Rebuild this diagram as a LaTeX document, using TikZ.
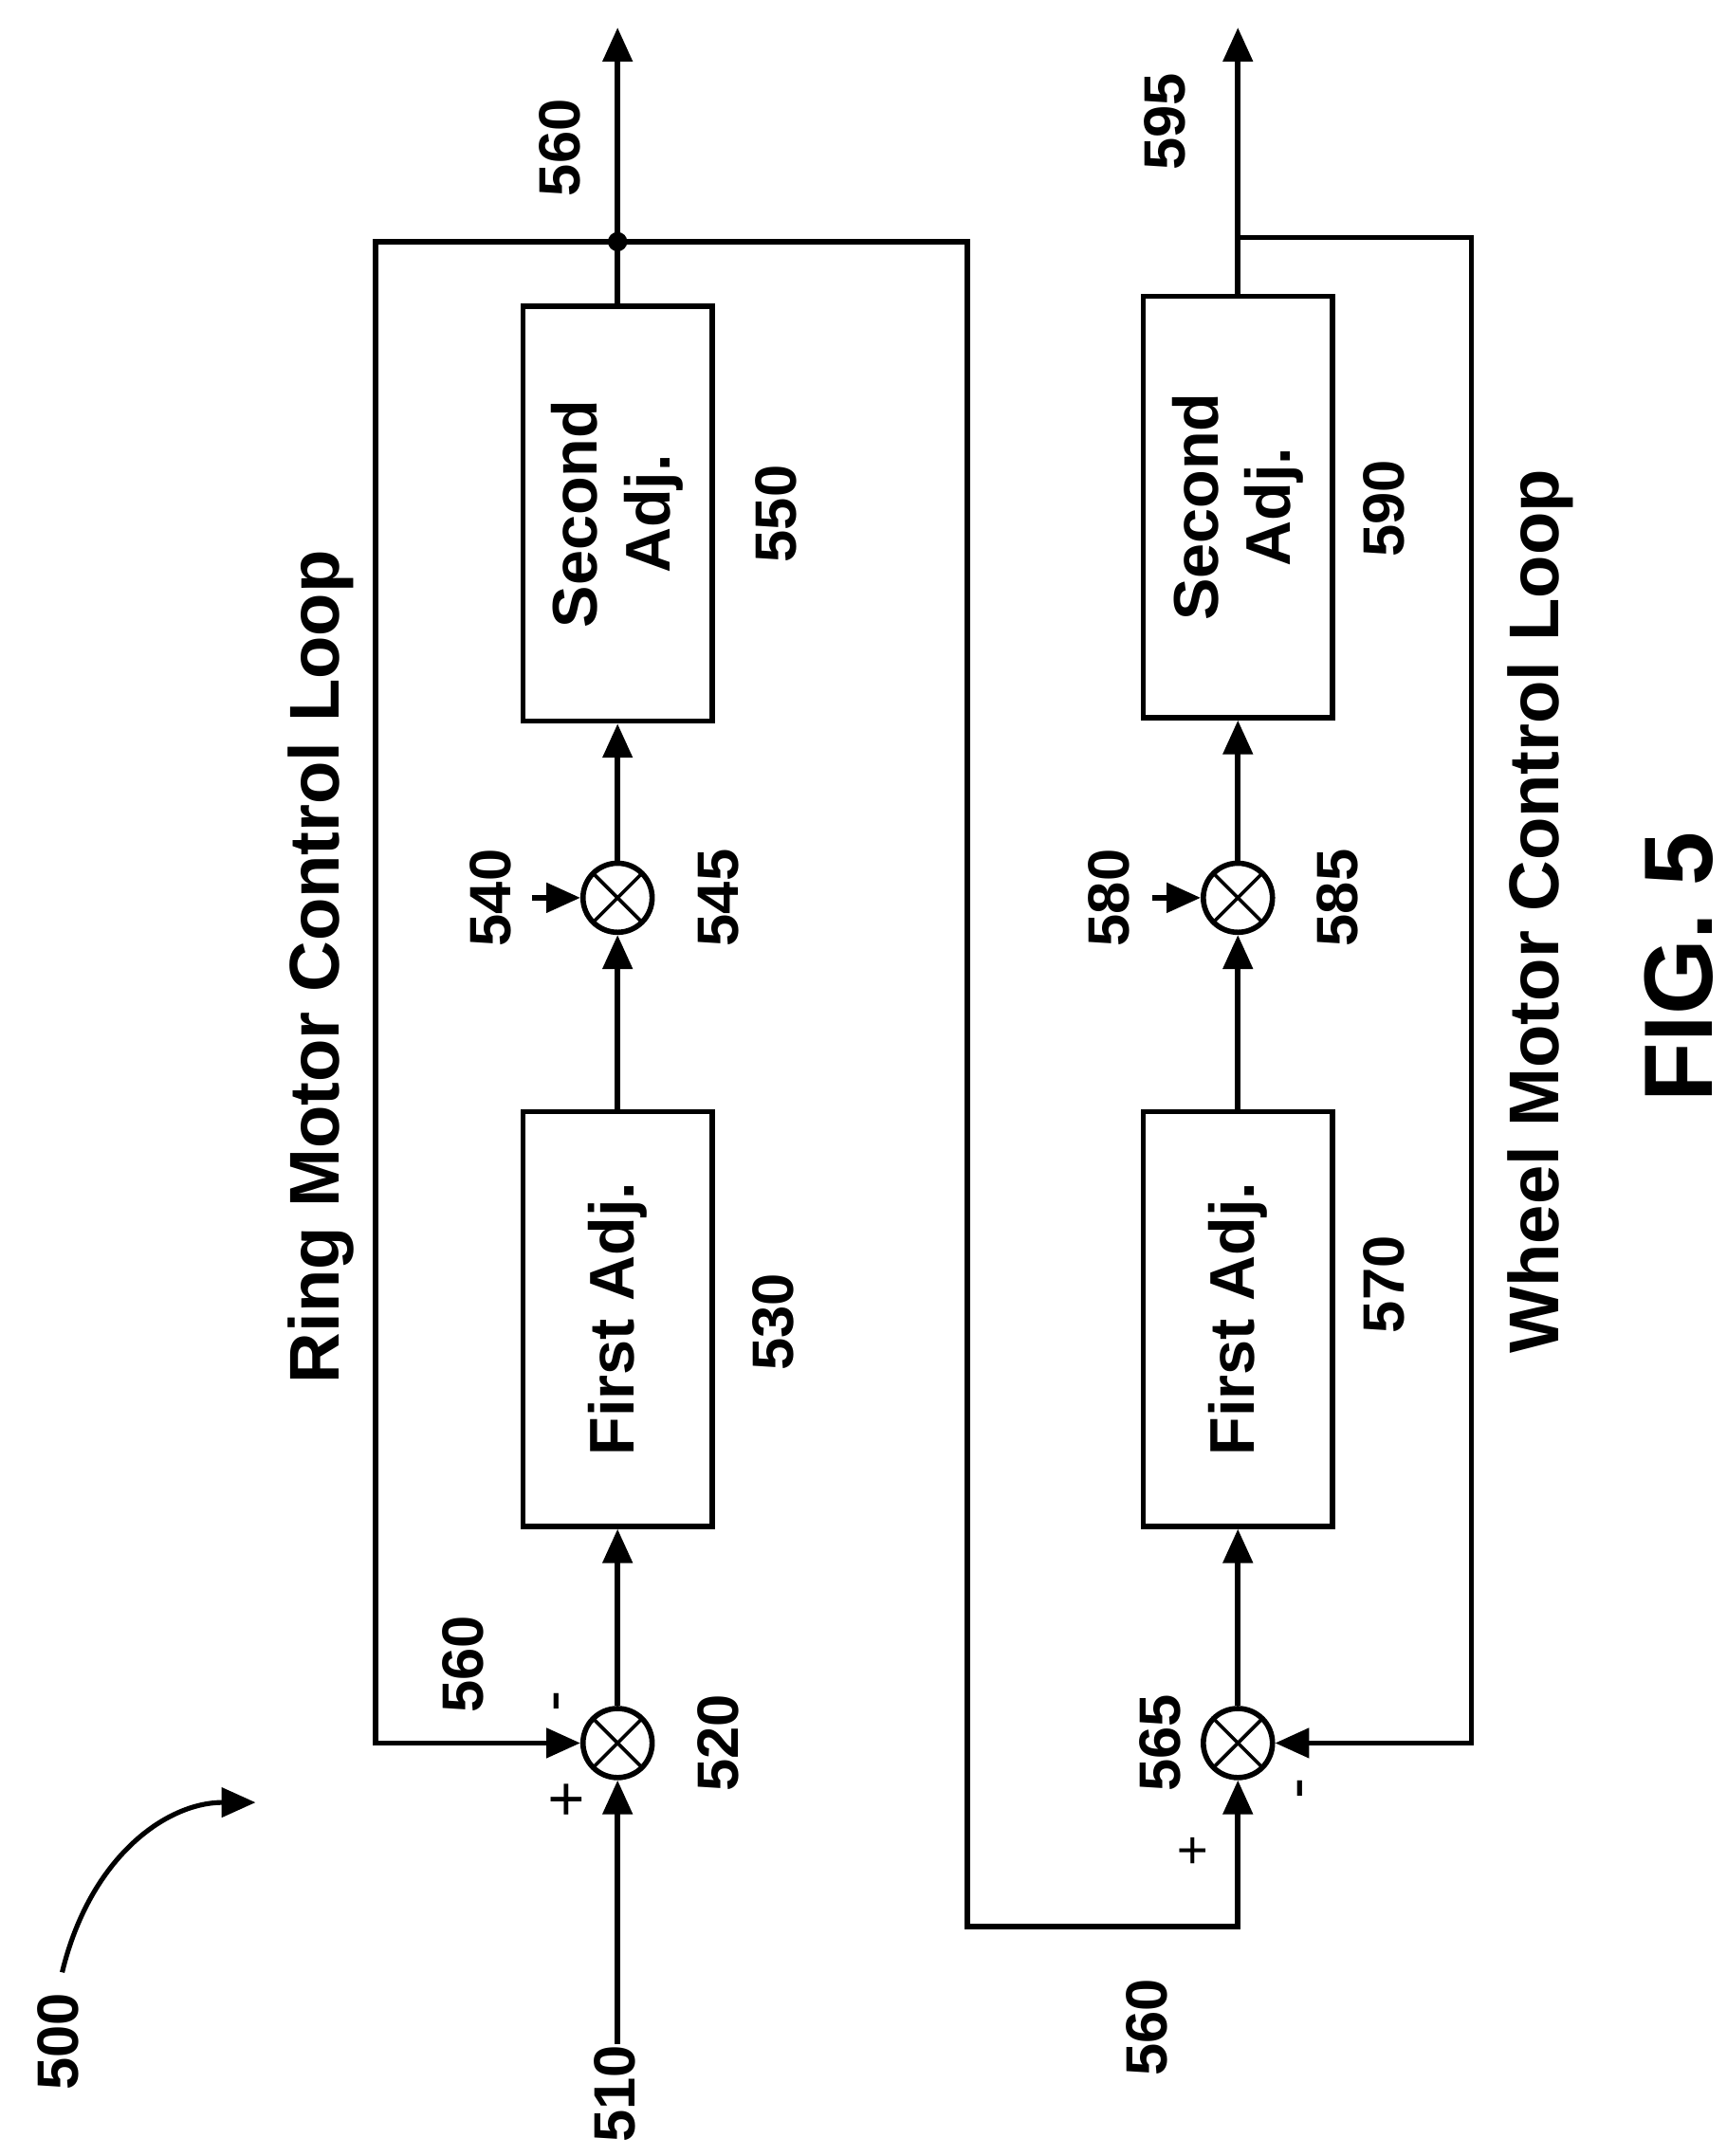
\documentclass[tikz,border=0pt]{standalone}
\usepackage{fontspec}
\setmainfont{Liberation Sans}
\usetikzlibrary{arrows.meta}
\begin{document}
\begin{tikzpicture}[x=0.01cm,y=-0.01cm,line width=1.1pt,
 blk/.style={draw,minimum width=3cm,minimum height=1.37cm,rotate=90,font=\bfseries\fontsize{13}{15}\selectfont,align=center},
 sum/.style={draw,circle,minimum size=0.5cm,inner sep=0pt,path picture={\draw[line width=0.7pt] (path picture bounding box.north west)--(path picture bounding box.south east) (path picture bounding box.north east)--(path picture bounding box.south west);}},
 lab/.style={rotate=90,font=\bfseries\fontsize{12}{14}\selectfont},
 arr/.style={-{Triangle[length=7pt,width=6pt]}}]
\useasboundingbox (0,0) rectangle (1250,1561);
% top loop
\node[blk] (b530) at (447,955) {First Adj.};
\node[blk] (b550) at (447,372) {Second\\Adj.};
\node[sum] (s520) at (447,1262) {};
\node[sum] (s545) at (447,650) {};
\coordinate (in510) at (447,1480);
\coordinate (out560) at (447,20);
\coordinate (dot) at (447,175);
\coordinate (in540) at (385,650);
\fill (dot) circle (7);
\draw[arr] (in510) -- (s520);
\draw[arr] (s520) -- (b530);
\draw[arr] (b530) -- (s545);
\draw[arr] (in540) -- (s545);
\draw[arr] (s545) -- (b550);
\draw[arr] (b550) -- (out560);
\coordinate (fa) at (272,175); \coordinate (fb) at (272,1262);
\draw[arr] (dot) -- (fa) -- (fb) -- (s520);
% bottom loop
\node[blk] (b570) at (896,955) {First Adj.};
\node[blk,minimum width=3.05cm] (b590) at (896,367) {Second\\Adj.};
\node[sum] (s565) at (896,1262) {};
\node[sum] (s585) at (896,650) {};
\coordinate (out595) at (896,20);
\coordinate (top2) at (896,172);
\coordinate (in580) at (834,650);
\coordinate (c1) at (700,175); \coordinate (c2) at (700,1395); \coordinate (c3) at (896,1395);
\draw[arr] (dot) -- (c1) -- (c2) -- (c3) -- (s565);
\draw[arr] (s565) -- (b570);
\draw[arr] (b570) -- (s585);
\draw[arr] (in580) -- (s585);
\draw[arr] (s585) -- (b590);
\draw[arr] (b590) -- (out595);
\coordinate (d1) at (1065,172); \coordinate (d2) at (1065,1262);
\draw[arr] (top2) -- (d1) -- (d2) -- (s565);
% labels
\node[lab] at (405,107) {560};
\node[lab] at (843,88) {595};
\node[lab] at (335,1205) {560};
\node[lab] at (520,1262) {520};
\node[lab] at (560,957) {530};
\node[lab] at (355,650) {540};
\node[lab] at (520,650) {545};
\node[lab] at (562,372) {550};
\node[lab] at (803,650) {580};
\node[lab] at (968,650) {585};
\node[lab] at (1002,368) {590};
\node[lab] at (1002,930) {570};
\node[lab] at (840,1262) {565};
\node[lab] at (830,1468) {560};
\node[lab] at (445,1516) {510};
\node[lab] at (42,1478) {500};
\node[rotate=90,font=\fontsize{13}{16}\selectfont] at (412,1303) {+};
\node[rotate=90,font=\fontsize{13}{16}\selectfont] at (408,1232) {-};
\node[rotate=90,font=\fontsize{11}{16}\selectfont] at (865,1340) {+};
\node[rotate=90,font=\fontsize{13}{16}\selectfont] at (946,1295) {-};
\node[lab,font=\bfseries\fontsize{14.5}{18}\selectfont] at (232,700) {Ring Motor Control Loop};
\node[lab,font=\bfseries\fontsize{14.5}{18}\selectfont] at (1115,660) {Wheel Motor Control Loop};
\node[lab,font=\bfseries\fontsize{20}{24}\selectfont] at (1215,700) {FIG. 5};
\coordinate (p1) at (45,1428); \coordinate (p2) at (185,1305);
\draw[arr,line width=1pt] (p1) .. controls (65,1345) and (120,1305) .. (p2);
\end{tikzpicture}
\end{document}
